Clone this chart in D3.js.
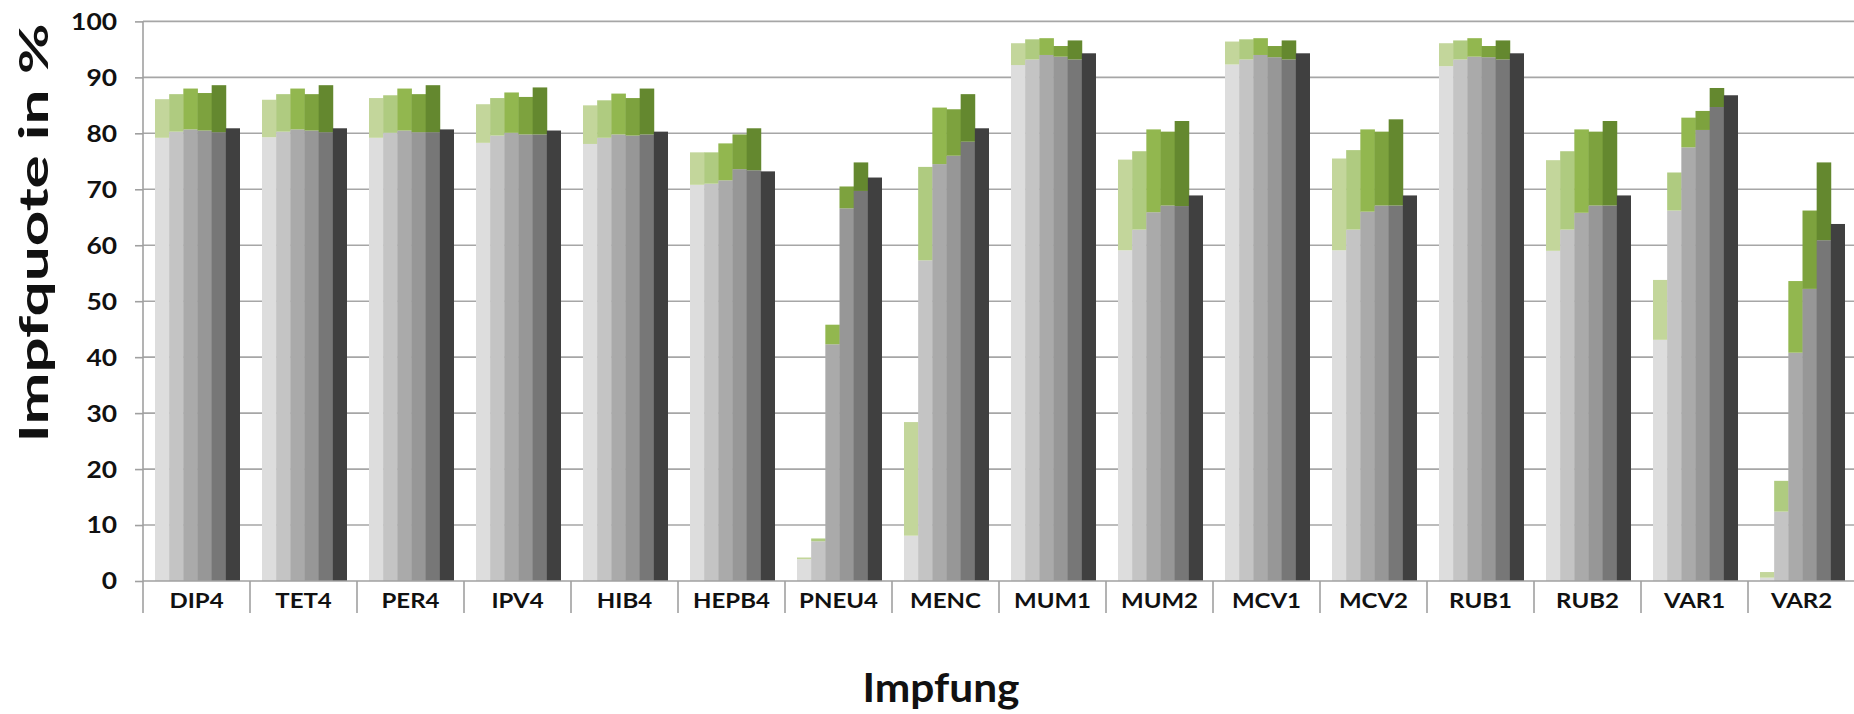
<!DOCTYPE html>
<html>
<head>
<meta charset="utf-8">
<script src="https://cdn.jsdelivr.net/npm/d3@7"></script>
<style>
  body { margin: 0; background: #fff; }
  text { font-family: Lato, "Open Sans", sans-serif; fill: #111; }
</style>
</head>
<body>
<svg id="chart" width="1854" height="714"></svg>
<script>
"use strict";

// Impfungen (categories)
const categories = ["DIP4", "TET4", "PER4", "IPV4", "HIB4", "HEPB4", "PNEU4", "MENC",
  "MUM1", "MUM2", "MCV1", "MCV2", "RUB1", "RUB2", "VAR1", "VAR2"];

// grey part of the first five bars (one row per category)
const basis = [
  [79.2, 80.3, 80.7, 80.5, 80.2],
  [79.3, 80.3, 80.7, 80.5, 80.2],
  [79.2, 80.1, 80.5, 80.2, 80.2],
  [78.3, 79.6, 80.1, 79.8, 79.8],
  [78.1, 79.2, 79.8, 79.6, 79.8],
  [70.8, 71.0, 71.6, 73.6, 73.4],
  [3.9, 7.1, 42.3, 66.6, 69.7],
  [8.1, 57.3, 74.5, 76.0, 78.5],
  [92.2, 93.2, 94.0, 93.7, 93.2],
  [59.1, 62.8, 65.9, 67.1, 67.0],
  [92.3, 93.2, 94.0, 93.6, 93.2],
  [59.1, 62.8, 66.0, 67.1, 67.1],
  [92.0, 93.2, 93.7, 93.6, 93.2],
  [59.0, 62.8, 65.8, 67.1, 67.1],
  [43.1, 66.2, 77.5, 80.6, 84.7],
  [0.6, 12.4, 40.8, 52.2, 60.9]
];

// top of the green part (grey + green) of the first five bars
const gesamt = [
  [86.1, 87.0, 88.0, 87.2, 88.6],
  [86.0, 87.0, 88.0, 87.0, 88.6],
  [86.3, 86.8, 88.0, 87.0, 88.6],
  [85.2, 86.3, 87.3, 86.5, 88.2],
  [85.0, 85.9, 87.1, 86.3, 88.0],
  [76.6, 76.6, 78.2, 79.8, 80.9],
  [4.2, 7.6, 45.8, 70.5, 74.8],
  [28.4, 74.0, 84.6, 84.3, 87.0],
  [96.1, 96.8, 97.0, 95.6, 96.6],
  [75.3, 76.8, 80.7, 80.3, 82.2],
  [96.4, 96.8, 97.0, 95.6, 96.6],
  [75.5, 77.0, 80.7, 80.3, 82.5],
  [96.1, 96.6, 97.0, 95.6, 96.6],
  [75.2, 76.8, 80.7, 80.3, 82.2],
  [53.8, 73.0, 82.8, 84.0, 88.1],
  [1.6, 17.9, 53.6, 66.2, 74.8]
];

// sixth (darkest) bar
const letzte = [80.9, 80.9, 80.7, 80.5, 80.3, 73.2, 72.1, 80.9,
  94.3, 68.9, 94.3, 68.9, 94.3, 68.9, 86.8, 63.8];

const yTicks = [0, 10, 20, 30, 40, 50, 60, 70, 80, 90, 100];

const greys = ["#dddddd", "#c4c4c4", "#aaaaaa", "#979797", "#777777", "#404040"];
const greens = ["#c3d69b", "#afcb80", "#92b74f", "#7da23e", "#64882f"];

const width = 1854;
const margin = { top: 21.4, left: 143, bottom: 581, right: 1855 };

const svg = d3.select("#chart");

// Skalen
const x0 = d3.scaleBand().domain(categories).range([margin.left, margin.right]);
const x1 = d3.scaleBand().domain(d3.range(6)).range([12, 97]);
const y = d3.scaleLinear().domain([0, 100]).range([margin.bottom, margin.top]);

// Gitterlinien
svg.append("g")
  .selectAll("line")
  .data(yTicks.slice(1))
  .join("line")
  .attr("x1", margin.left)
  .attr("x2", width)
  .attr("y1", d => y(d))
  .attr("y2", d => y(d))
  .attr("stroke", "#a6a6a6")
  .attr("stroke-width", 1.6);

// Balken
const groups = svg.append("g")
  .selectAll("g")
  .data(categories)
  .join("g")
  .attr("transform", d => `translate(${x0(d)},0)`);

groups.each(function (cat, ci) {
  const g = d3.select(this);
  basis[ci].forEach((v, i) => {
    g.append("rect")
      .attr("x", x1(i))
      .attr("width", x1.bandwidth() + 0.4)
      .attr("y", y(v))
      .attr("height", y(0) - y(v))
      .attr("fill", greys[i]);
    g.append("rect")
      .attr("x", x1(i))
      .attr("width", x1.bandwidth() + 0.4)
      .attr("y", y(gesamt[ci][i]))
      .attr("height", y(v) - y(gesamt[ci][i]))
      .attr("fill", greens[i]);
  });
  g.append("rect")
    .attr("x", x1(5))
    .attr("width", x1.bandwidth())
    .attr("y", y(letzte[ci]))
    .attr("height", y(0) - y(letzte[ci]))
    .attr("fill", greys[5]);
});

// Y-Achse
const yAxis = svg.append("g")
  .attr("transform", `translate(${margin.left},0)`)
  .call(d3.axisLeft(y).tickValues(yTicks).tickSize(8).tickSizeOuter(0));
yAxis.select(".domain").attr("stroke", "#a0a0a0").attr("stroke-width", 1.6)
  .attr("d", `M0,${margin.top}V${margin.bottom + 32}`);
yAxis.selectAll(".tick line").attr("stroke", "#a0a0a0").attr("stroke-width", 1.6);
yAxis.selectAll(".tick text")
  .attr("x", -26 / 1.2)
  .attr("dy", "0.36em")
  .attr("transform", "scale(1.2,1)")
  .style("font-size", "22px")
  .style("font-weight", 700)
  .style("fill", "#111");

// X-Achse
const xAxis = svg.append("g")
  .attr("transform", `translate(0,${margin.bottom})`)
  .call(d3.axisBottom(x0).tickSize(0).tickSizeOuter(0));
xAxis.select(".domain").attr("stroke", "#a0a0a0").attr("stroke-width", 1.6)
  .attr("d", `M${margin.left},0H${width}`);
xAxis.selectAll(".tick text")
  .attr("y", 27)
  .attr("dy", 0)
  .attr("transform", "scale(1.17,1)") // labels are centred on x=0, so this only widens them
  .style("font-size", "20.5px")
  .style("font-weight", 700)
  .style("fill", "#111");

// Trennstriche unter der X-Achse
xAxis.append("g")
  .selectAll("line")
  .data(categories.slice(1))
  .join("line")
  .attr("x1", d => x0(d))
  .attr("x2", d => x0(d))
  .attr("y1", 0)
  .attr("y2", 32)
  .attr("stroke", "#a0a0a0")
  .attr("stroke-width", 1.6);

// Achsentitel
svg.append("text")
  .attr("x", 941)
  .attr("y", 702)
  .attr("text-anchor", "middle")
  .attr("textLength", 157)
  .attr("lengthAdjust", "spacingAndGlyphs")
  .style("font-size", "40px")
  .style("font-weight", 700)
  .text("Impfung");

svg.append("text")
  .attr("transform", "translate(48,233) rotate(-90)")
  .attr("text-anchor", "middle")
  .attr("textLength", 419)
  .attr("lengthAdjust", "spacingAndGlyphs")
  .style("font-size", "40px")
  .style("font-weight", 700)
  .text("Impfquote in %");
</script>
</body>
</html>
